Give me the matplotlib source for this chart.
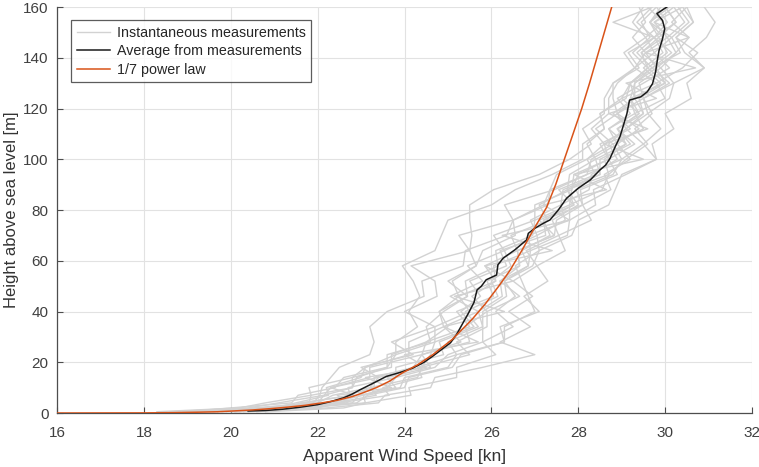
import matplotlib
matplotlib.use('Agg')
import matplotlib.pyplot as plt

# heights [m] of the instantaneous profiles
z_meas = [0.5, 2, 4, 7, 10, 14, 18, 23, 28, 34, 40, 46, 52, 58, 64, 70, 76, 82, 88, 94,
          100, 106, 112, 118, 124, 130, 136, 142, 148, 154, 160]

# instantaneous measurements, apparent wind speed [kn] at z_meas
inst_profiles = [
    [20.1, 21.8, 22.4, 23.35, 23.2, 24.3, 24.4, 25.5, 25.2, 25.9, 25.9, 26.65, 26.2, 26.65, 26.6, 27.45,
     27.5, 28.1, 27.95, 28.8, 29.0, 29.5, 29.1, 29.6, 29.5, 30.1, 29.7, 30.35, 30.15, 30.55, 30.3],
    [19.0, 20.7, 21.8, 21.85, 22.8, 22.9, 23.6, 23.6, 24.6, 24.5, 24.9, 25.45, 25.0, 25.65, 25.8, 26.55,
     26.5, 27.2, 27.35, 27.5, 28.2, 28.6, 28.3, 28.7, 28.7, 28.9, 29.3, 29.55, 29.25, 29.55, 29.4],
    [19.5, 21.5, 21.6, 22.85, 22.3, 23.4, 23.0, 24.2, 23.7, 24.7, 24.0, 24.75, 24.7, 24.15, 25.5, 25.25,
     26.5, 26.3, 27.45, 28.2, 29.0, 28.8, 29.5, 29.3, 30.0, 29.8, 30.4, 30.75, 30.25, 30.65, 30.5],
    [20.4, 22.2, 23.4, 23.55, 24.6, 24.7, 25.8, 27.0, 26.2, 26.9, 26.4, 26.95, 26.5, 27.05, 26.8, 27.55,
     27.4, 28.0, 27.75, 28.7, 28.6, 29.1, 28.7, 29.2, 28.9, 29.5, 30.1, 29.75, 30.15, 29.65, 30.1],
    [19.8, 20.9, 22.7, 22.45, 23.7, 23.1, 24.5, 24.0, 25.7, 24.9, 26.3, 25.15, 26.5, 25.85, 27.4, 26.25,
     27.8, 27.2, 28.65, 27.9, 29.5, 28.6, 29.6, 28.7, 29.8, 29.1, 30.7, 29.55, 30.55, 29.75, 30.4],
    [19.3, 21.0, 21.5, 22.25, 22.2, 23.0, 23.1, 23.8, 23.8, 24.3, 24.1, 24.35, 24.2, 23.95, 24.7, 24.85,
     25.0, 26.0, 26.55, 27.4, 28.1, 28.1, 28.6, 28.5, 29.0, 29.2, 29.6, 29.45, 29.85, 29.65, 30.0],
    [20.0, 21.7, 22.3, 23.05, 23.6, 23.8, 24.7, 25.0, 25.8, 25.8, 25.8, 26.35, 26.3, 26.95, 27.1, 27.85,
     28.0, 28.7, 28.85, 29.0, 29.8, 29.7, 30.2, 30.0, 30.6, 30.5, 30.9, 30.55, 30.95, 31.15, 30.9],
    [18.6, 20.4, 21.1, 22.15, 22.3, 23.2, 23.2, 24.4, 24.5, 25.5, 25.2, 26.05, 25.9, 26.65, 26.6, 27.45,
     27.1, 27.9, 27.55, 28.4, 28.2, 28.8, 28.4, 28.9, 28.8, 28.8, 29.4, 29.15, 29.75, 28.8, 29.7],
    [20.2, 21.4, 22.8, 22.95, 23.9, 24.0, 25.0, 25.2, 26.3, 26.2, 27.1, 26.75, 27.3, 27.05, 27.7, 27.55,
     28.3, 28.1, 28.75, 28.6, 29.2, 28.9, 29.4, 28.9, 29.5, 29.4, 29.9, 29.45, 29.95, 29.65, 29.9],
    [18.9, 20.0, 21.4, 21.55, 22.4, 22.6, 23.6, 23.8, 24.7, 24.7, 25.5, 25.25, 26.1, 26.05, 26.9, 26.85,
     27.8, 27.8, 28.55, 28.7, 29.1, 29.6, 29.3, 29.7, 29.5, 30.2, 29.9, 30.25, 30.55, 30.15, 30.5],
    [20.6, 21.7, 23.1, 23.05, 23.8, 23.6, 24.6, 24.4, 25.3, 24.9, 25.7, 25.05, 25.8, 25.45, 26.3, 26.05,
     27.0, 27.0, 27.85, 27.9, 28.7, 28.5, 29.2, 28.8, 29.3, 29.2, 29.7, 30.15, 29.75, 30.05, 29.8],
    [19.6, 20.8, 22.0, 22.15, 22.8, 22.8, 23.7, 23.7, 24.5, 25.0, 24.8, 25.25, 25.1, 25.65, 25.5, 25.55,
     25.5, 25.5, 26.05, 27.1, 27.8, 28.3, 28.1, 28.6, 28.6, 28.8, 29.3, 29.05, 29.55, 29.25, 29.5],
    [20.8, 22.6, 23.1, 24.15, 24.1, 25.2, 25.2, 26.1, 25.8, 26.5, 26.1, 26.55, 26.3, 26.85, 26.7, 27.35,
     27.2, 27.9, 27.75, 28.5, 28.4, 29.1, 28.9, 29.4, 29.2, 29.3, 29.8, 29.55, 30.05, 29.75, 30.2],
    [19.2, 21.1, 21.7, 22.75, 22.7, 23.8, 23.8, 24.9, 24.8, 25.7, 25.4, 26.15, 26.0, 26.45, 26.3, 27.05,
     26.9, 27.6, 27.65, 28.5, 28.5, 29.2, 28.9, 29.5, 29.3, 29.9, 29.5, 29.95, 29.75, 30.25, 30.0],
    [19.9, 22.0, 22.5, 23.65, 23.5, 24.4, 24.3, 25.2, 25.0, 25.8, 25.7, 26.25, 26.2, 26.85, 26.9, 27.75,
     27.8, 28.4, 28.35, 29.1, 29.8, 29.5, 29.9, 29.6, 30.1, 30.2, 30.9, 30.45, 30.25, 30.65, 30.4],
    [18.3, 20.2, 20.8, 21.85, 21.8, 22.8, 23.1, 24.1, 24.1, 24.9, 24.8, 25.45, 25.4, 26.15, 26.1, 26.95,
     27.0, 27.8, 27.85, 28.0, 28.7, 28.6, 29.1, 28.9, 29.3, 29.3, 29.7, 29.35, 29.75, 29.35, 29.7],
    [20.1, 21.2, 21.9, 22.05, 22.1, 22.3, 22.5, 23.2, 23.3, 23.2, 23.6, 24.45, 24.4, 25.35, 25.4, 26.35,
     26.5, 27.3, 27.35, 28.2, 28.3, 28.9, 28.7, 29.3, 29.2, 30.0, 29.8, 30.25, 30.05, 30.45, 30.2],
    [20.3, 21.5, 22.6, 22.65, 23.3, 23.3, 24.2, 24.4, 25.5, 25.4, 25.9, 25.55, 26.1, 25.85, 26.6, 26.45,
     27.3, 27.1, 27.75, 27.8, 28.4, 28.2, 28.6, 28.5, 29.1, 29.2, 29.6, 29.25, 29.65, 29.45, 29.8],
    [19.4, 21.6, 22.9, 23.15, 24.0, 24.1, 25.1, 25.3, 26.3, 26.3, 27.0, 26.85, 26.7, 26.55, 27.1, 27.05,
     27.7, 27.6, 28.25, 28.3, 28.9, 28.7, 29.1, 29.5, 29.4, 30.0, 29.6, 30.05, 29.85, 30.25, 30.0],
    [19.7, 20.5, 22.0, 22.35, 23.2, 23.4, 24.4, 24.6, 24.7, 25.6, 25.3, 25.75, 25.5, 26.35, 26.2, 27.25,
     27.2, 28.1, 28.05, 28.9, 28.7, 29.3, 28.9, 29.4, 29.0, 29.8, 29.3, 29.75, 29.55, 29.95, 29.6],
]

# average from measurements
avg_z = [0.8, 1.0, 1.5, 2.3, 3.3, 4.5, 6.0, 7.5, 9.1, 11.5, 14.4, 16.0, 17.7, 20.0, 22.4, 27.7, 31.0,
         35.0, 39.6, 43.6, 48.5, 50.0, 52.5, 54.4, 58.4, 61.0, 64.3, 68.2, 70.8, 72.8, 74.8, 76.1, 80.0,
         84.6, 88.6, 91.9, 95.8, 97.7, 100.3, 104.9, 108.9, 113.4, 118.0, 123.3, 124.6, 126.6, 129.8,
         134.4, 139.0, 142.9, 147.5, 151.4, 154.7, 157.4, 160.0]
avg_u = [20.4, 20.8, 21.2, 21.6, 22.0, 22.3, 22.6, 22.8, 22.97, 23.25, 23.58, 23.9, 24.19, 24.45, 24.65,
         25.06, 25.2, 25.33, 25.48, 25.6, 25.67, 25.77, 25.88, 26.12, 26.15, 26.27, 26.54, 26.81, 26.85,
         27.0, 27.2, 27.35, 27.54, 27.73, 28.0, 28.28, 28.5, 28.63, 28.73, 28.85, 28.96, 29.04, 29.12,
         29.18, 29.44, 29.59, 29.71, 29.78, 29.82, 29.86, 29.94, 29.99, 29.94, 29.81, 30.04]

# 1/7 power law
law_z = [0, 0.05, 0.15, 0.3, 0.5, 0.8, 1.2, 1.7, 2.3, 3.0, 4.0, 5.0, 6.5, 8.0, 10, 12.5, 15.8, 19, 23,
         29, 37, 43, 50, 56, 64, 72, 81, 90, 100, 110, 120, 130, 140, 150, 160]
law_u = [16.0, 18.0, 18.7, 19.2, 19.7, 20.05, 20.5, 20.9, 21.3, 21.7, 22.1, 22.45, 22.8, 23.05, 23.35,
         23.65, 23.95, 24.3, 24.65, 25.1, 25.56, 25.86, 26.17, 26.42, 26.7, 26.96, 27.27, 27.48, 27.68,
         27.88, 28.08, 28.26, 28.43, 28.6, 28.77]

plt.rcParams['font.family'] = ['Liberation Sans', 'DejaVu Sans']

fig = plt.figure(figsize=(7.59, 4.67), dpi=100)
ax = fig.add_axes([0.0751, 0.1156, 0.9157, 0.8694])

for i, prof in enumerate(inst_profiles):
    ax.plot(prof, z_meas, color='#d2d2d2', lw=1.0, zorder=2,
            label='Instantaneous measurements' if i == 0 else None)
ax.plot(avg_u, avg_z, color='#1a1a1a', lw=1.1, zorder=3, label='Average from measurements')
ax.plot(law_u, law_z, color='#d95319', lw=1.1, zorder=4, label='1/7 power law')

ax.set_xlim(16, 32)
ax.set_ylim(0, 160)
ax.set_xticks(range(16, 33, 2))
ax.set_yticks(range(0, 161, 20))
ax.grid(True, color='#e2e2e2', lw=0.8, zorder=0)
ax.set_axisbelow(True)

for s in ['top', 'right']:
    ax.spines[s].set_visible(False)
for s in ['left', 'bottom']:
    ax.spines[s].set_color('#4d4d4d')
    ax.spines[s].set_linewidth(0.9)
ax.tick_params(direction='in', length=4, colors='#4d4d4d', labelcolor='#404040', labelsize=11)
ax.tick_params(axis='x', pad=9)
ax.tick_params(axis='y', pad=6)

ax.set_xlabel('Apparent Wind Speed [kn]', fontsize=12.5, color='#333333', labelpad=7)
ax.set_ylabel('Height above sea level [m]', fontsize=12, color='#333333')
ax.yaxis.set_label_coords(-0.054, 0.5)

leg = ax.legend(loc='upper left', bbox_to_anchor=(0.02, 0.967), fontsize=10.3, frameon=True,
                fancybox=False, handlelength=2.3, borderpad=0.4, labelspacing=0.3,
                handletextpad=0.5, borderaxespad=0)
leg.get_frame().set_edgecolor('#333333')
leg.get_frame().set_linewidth(0.9)
for t in leg.get_texts():
    t.set_color('#262626')

fig.savefig('out.png', dpi=100)
